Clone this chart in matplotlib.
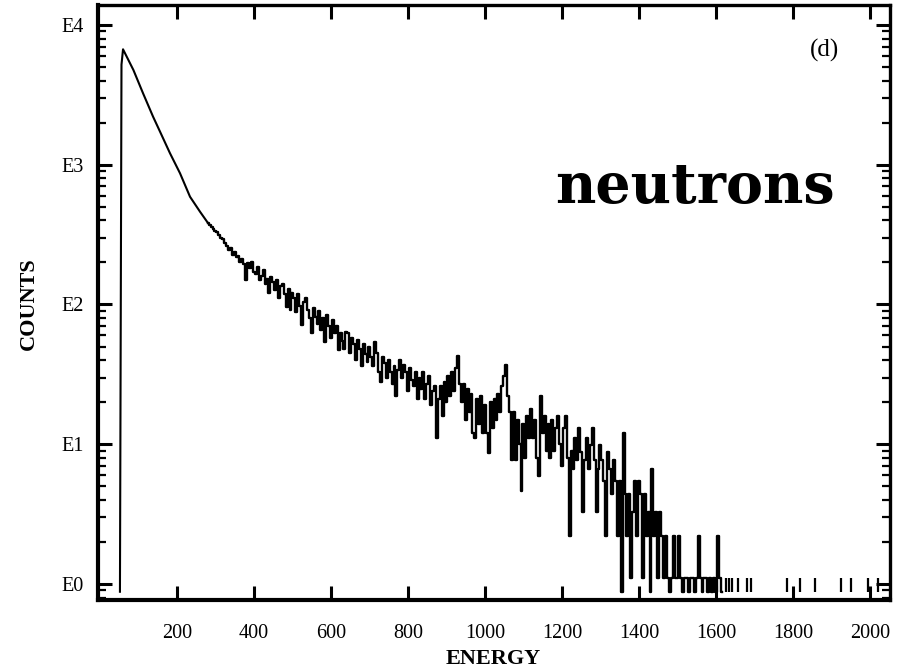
import numpy as np
import matplotlib
matplotlib.use("Agg")
import matplotlib.pyplot as plt
from matplotlib.ticker import FixedLocator, FuncFormatter, LogLocator, NullFormatter

# smooth part of the spectrum: threshold edge and the falling shoulder
smooth_energy = [52, 56, 60, 87, 112, 138, 156, 182, 208, 234, 260, 280]
smooth_counts = [0.88, 5200, 6700, 4760, 3245, 2208, 1727, 1208, 869, 590, 461, 385]

# noisy part, 5-unit channels starting at 280
chan_start = 280
chan_width = 5
chan_counts = [
    385, 372, 360, 346, 338, 330, 314, 298, 292, 276,
    262, 246, 255, 226, 238, 218, 222, 201, 212, 196,
    150, 198, 182, 200, 172, 165, 185, 150, 160, 176,
    140, 152, 121, 158, 146, 128, 150, 112, 135, 140,
    118, 96, 130, 91, 120, 112, 88, 118, 98, 71,
    105, 111, 92, 80, 63, 95, 82, 72, 90, 66,
    80, 54, 84, 70, 58, 78, 62, 70, 47, 62,
    55, 48, 64, 62, 45, 58, 52, 40, 56, 48,
    36, 52, 44, 39, 50, 42, 36, 54, 45, 33,
    28, 42, 38, 30, 40, 33, 27, 36, 22, 34,
    40, 30, 37, 33, 24, 35, 29, 26, 33, 21,
    30, 25, 33, 21, 27, 31, 19, 24, 26, 11,
    21, 26, 16, 28, 20, 31, 22, 33, 24, 35,
    43, 27, 20, 27, 15, 25, 17, 23, 12, 11,
    21, 14, 22, 12, 19, 12, 8.7, 20, 13, 21,
    15, 23, 17, 26, 31, 37, 22, 17, 7.7, 17,
    7.7, 15, 10, 4.6, 14, 8, 16, 11, 18, 11,
    15, 8, 5.9, 22, 12, 16, 9, 14, 8, 15,
    9, 13, 16, 10, 7, 13, 16, 8, 2.2, 9,
    6.6, 11, 7.7, 13, 8.8, 3.3, 7.7, 11, 6.6, 9.9,
    13, 7.7, 3.3, 6.6, 9.9, 7.7, 5.5, 2.2, 8.8, 6.6,
    4.4, 7.7, 5.5, 2.2, 5.5, 0.88, 12, 4.4, 2.2, 4.4,
    1.1, 3.3, 5.5, 2.2, 5.5, 4.4, 1.1, 4.4, 2.2, 3.3,
    0.88, 6.6, 2.2, 3.3, 1.1, 3.3, 2.2, 1.1, 2.2, 1.1,
    0.88, 1.1, 2.2, 1.1, 1.1, 2.2, 1.1, 0.88, 1.1, 1.1,
    0.88, 1.1, 1.1, 0.88, 1.1, 2.2, 1.1, 0.88, 1.1, 1.1,
    0.88, 1.1, 0.88, 1.1, 0.88, 2.2, 1.1, 0.88,
]

# isolated single counts in the high-energy tail
tail_hits = [1627, 1634, 1641, 1657, 1680, 1692, 1784, 1818, 1857, 1926, 1952, 1995, 2021]
empty_level = 0.88
hit_level = 1.1

x_ticks = [200, 400, 600, 800, 1000, 1200, 1400, 1600, 1800, 2000]

chan_e = chan_start + chan_width * np.arange(len(chan_counts))

serif = "Liberation Serif"

fig = plt.figure(figsize=(9.02, 6.69), dpi=100)
ax = fig.add_axes([98 / 902, 1 - 600 / 669, 792 / 902, 595 / 669])

ax.plot(smooth_energy, smooth_counts, color="black", lw=1.5)
ax.plot(chan_e, chan_counts, color="black", lw=1.7, drawstyle="steps-mid")
ax.vlines(tail_hits, empty_level, hit_level, color="black", lw=1.6)

ax.set_yscale("log")
ax.set_xlim(-5, 2052)
ax.set_ylim(0.768, 13900)

ax.xaxis.set_major_locator(FixedLocator(x_ticks))
ax.yaxis.set_major_locator(LogLocator(base=10, numticks=10))
ax.yaxis.set_minor_locator(LogLocator(base=10, subs=np.arange(2, 10), numticks=20))
ax.yaxis.set_minor_formatter(NullFormatter())
ax.yaxis.set_major_formatter(FuncFormatter(lambda v, _: "E%d" % round(np.log10(v))))

ax.tick_params(axis="both", which="major", direction="in", length=10, width=2.2,
               top=True, right=True, labelsize=14.5)
ax.tick_params(axis="y", which="minor", direction="in", length=6, width=1.6,
               right=True)
ax.tick_params(axis="x", which="major", pad=17)
ax.tick_params(axis="y", which="major", pad=10)
for lab in ax.get_xticklabels() + ax.get_yticklabels():
    lab.set_fontfamily(serif)

for side in ["left", "bottom"]:
    ax.spines[side].set_linewidth(3.0)
for side in ["top", "right"]:
    ax.spines[side].set_linewidth(2.4)

ax.text(0.754, 0.667, "neutrons", transform=ax.transAxes, ha="center",
        va="baseline", fontsize=40, fontweight="bold", family="DejaVu Serif")
ax.text(0.917, 0.924, "(d)", transform=ax.transAxes, ha="center",
        va="center", fontsize=18, family=serif)

fig.text(0.032, 0.546, "COUNTS", rotation=90, ha="center", va="center",
         fontsize=16, fontweight="bold", family=serif)
fig.text(0.547, 0.015, "ENERGY", ha="center", va="center",
         fontsize=16, fontweight="bold", family=serif)

fig.savefig("out.png", dpi=100)
